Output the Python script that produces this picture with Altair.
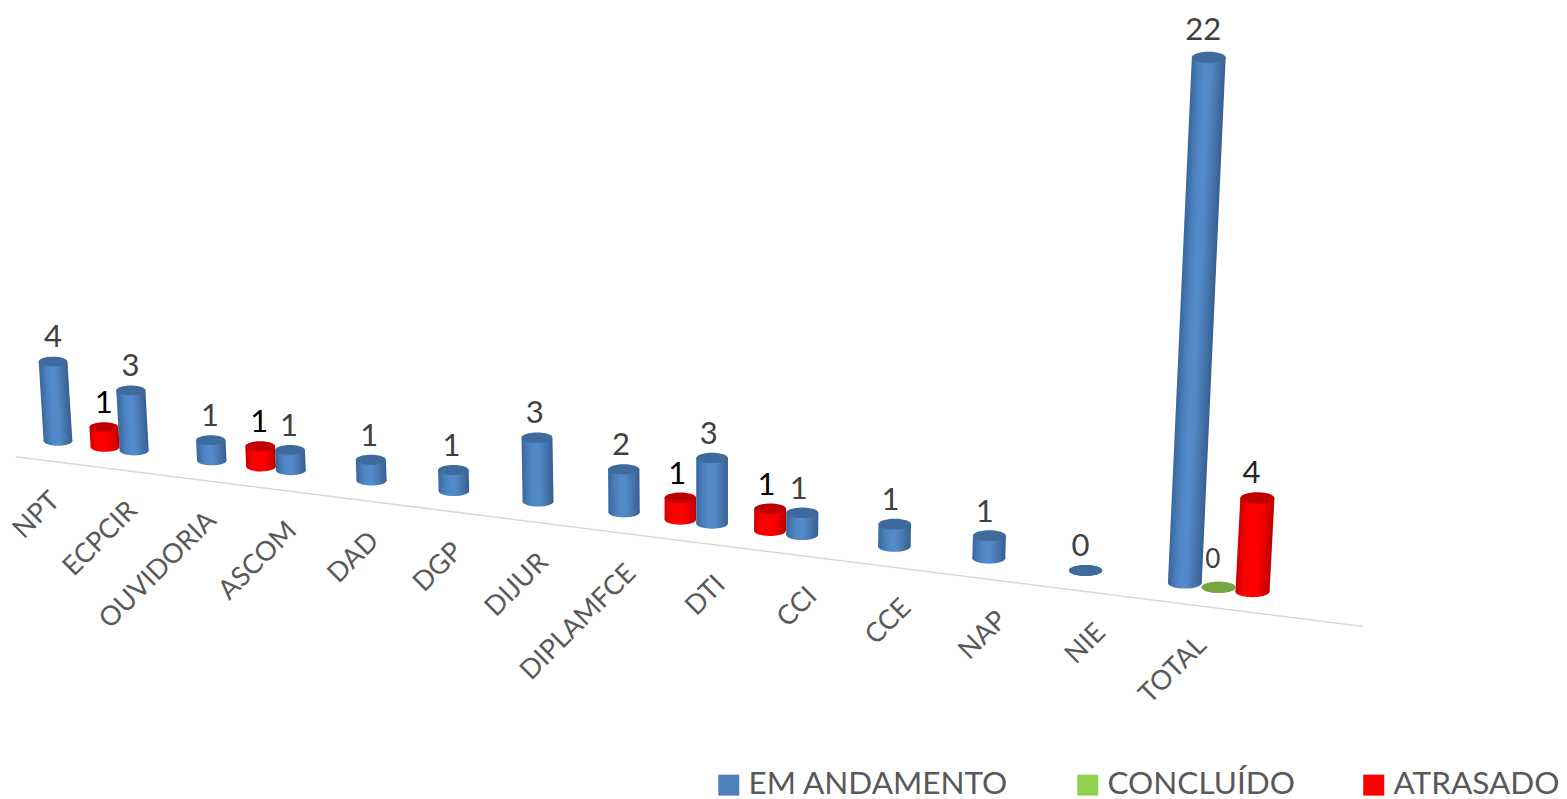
import altair as alt
import pandas as pd

CATEGORIES = ["NPT", "ECPCIR", "OUVIDORIA", "ASCOM", "DAD", "DGP", "DIJUR", "DIPLAMFCE",
              "DTI", "CCI", "CCE", "NAP", "NIE", "TOTAL"]
EM_ANDAMENTO = [4, 3, 1, 1, 1, 1, 3, 2, 3, 1, 1, 1, 0, 22]
CONCLUIDO = [None] * 13 + [0]
ATRASADO = [None, 1, None, 1, None, None, None, None, 1, 1, None, None, None, 4]
SERIES = ["EM ANDAMENTO", "CONCLUÍDO", "ATRASADO"]
LEGEND_COLORS = ["#4f81bd", "#92d050", "#ff0000"]

W, H = 1551, 789
ELLIPSE = "M-1,0 A1,0.33 0 1,1 1,0 A1,0.33 0 1,1 -1,0 Z"
FONT = "Lato"


# Perspective projection of the 3D chart (page pixels, 8px margin removed at the end)
def cat_x(i):
    return 58 + 75.5 * i + 0.6585 * i ** 2 + 0.0155 * i ** 3


def col_w(x):
    return 28.5 + 0.0045 * x


def base_y(x):
    return 433.7 + 0.126 * x


def col_h(x, v):
    return v * (19.6 + 0.0029 * x) * (1 + 0.0017 * v)


def lean(x):
    return (x - 710) * 9.58e-5


rows = []
for i, c in enumerate(CATEGORIES):
    cx = cat_x(i)
    for s, vals in zip(SERIES, [EM_ANDAMENTO, CONCLUIDO, ATRASADO]):
        v = vals[i]
        if v is None:
            continue
        # blue is the anchor; red stands left of it, except in TOTAL where it is third
        slot = {"EM ANDAMENTO": 0, "CONCLUÍDO": 1,
                "ATRASADO": 2 if c == "TOTAL" else -1}[s]
        x = cx + slot * col_w(cx)
        h = col_h(x, v)
        gap = 19 if s == "CONCLUÍDO" else 14 + 0.007 * h
        rows.append({
            "category": c, "series": s, "value": v,
            "x": x - 8, "y": base_y(x) - 8,
            "xt": x + h * lean(x) - 8, "yt": base_y(x) - h - 8,
            "w": col_w(x), "sz": col_w(x) ** 2,
            "lx": x + h * lean(x) - 8 + 0.3 - 0.005 * x,
            "ly": base_y(x) - h - 8 - gap,
        })
df = pd.DataFrame(rows)

cat_rows = []
for i, c in enumerate(CATEGORIES):
    cx = cat_x(i)
    lx = cx + (-3.5 + 0.0175 * cx)
    cat_rows.append({"category": c, "x": lx - 8, "y": base_y(lx) + 21 + 35 - 8})
df_cat = pd.DataFrame(cat_rows)

df_axis = pd.DataFrame([{"x": 16 - 8, "x2": 1363 - 8,
                         "y": base_y(16) + 21 - 8, "y2": base_y(1363) + 21 - 8}])

XS = alt.Scale(domain=[0, W], nice=False, zero=False)
YS = alt.Scale(domain=[H, 0], nice=False, zero=False)


def X(f):
    return alt.X(f, type="quantitative", scale=XS, axis=None)


def Y(f):
    return alt.Y(f, type="quantitative", scale=YS, axis=None)


SHADES = {
    "EM ANDAMENTO": ["#3a659b", "#4273ad", "#4a7fbd", "#5087c6", "#538bcb",
                     "#5289c8", "#4c80bb", "#4575ab", "#3e6b9e", "#365e8e"],
    "CONCLUÍDO": ["#76a640", "#76a640"],
    "ATRASADO": ["#c80000", "#e60000", "#fa0000", "#ff0000", "#ff0000",
                 "#ff0000", "#f60000", "#e40000", "#d00000", "#bb0000"],
}
TOP = {"EM ANDAMENTO": "#3e6a9c", "CONCLUÍDO": "#76a640", "ATRASADO": "#c00000"}


def stops_for(shades):
    n = len(shades)
    return [alt.GradientStop(color=col, offset=k / (n - 1)) for k, col in enumerate(shades)]


def body_gradient(r, shades):
    # gradient vector in bounding-box units whose iso-lines follow the column's lean
    dx = r.xt - r.x
    box = r.w + abs(dx)
    n = dx / box
    length = (r.w / box) / (1 + n * n)
    ax = 0 if dx >= 0 else abs(dx) / box
    return alt.LinearGradient(gradient="linear", stops=stops_for(shades),
                              x1=ax, y1=1, x2=ax + length, y2=1 + n * length)


layers = [
    alt.Chart(df_axis).mark_rule(color="#d9d9d9", strokeWidth=1.6).encode(
        x=X("x"), x2="x2", y=Y("y"), y2="y2")
]

for s in ["ATRASADO", "EM ANDAMENTO", "CONCLUÍDO"]:
    d = df[df.series == s]
    shades = SHADES[s]
    grad = alt.LinearGradient(gradient="linear", stops=stops_for(shades), x1=0, x2=1, y1=0, y2=0)
    layers.append(
        alt.Chart(d).mark_point(shape=ELLIPSE, filled=True, fill=grad, opacity=1, strokeWidth=0).encode(
            x=X("x"), y=Y("y"), size=alt.Size("sz:Q", scale=None, legend=None))
    )
    for r in d.itertuples():
        if r.value == 0:
            continue
        body = pd.DataFrame([
            {"yy": r.y, "xa": r.x - r.w / 2, "xb": r.x + r.w / 2},
            {"yy": r.yt, "xa": r.xt - r.w / 2, "xb": r.xt + r.w / 2},
        ])
        layers.append(
            alt.Chart(body).mark_area(orient="horizontal", fill=body_gradient(r, shades), opacity=1).encode(
                x=X("xa"), x2="xb:Q", y=Y("yy"))
        )
    layers.append(
        alt.Chart(d).mark_point(shape=ELLIPSE, filled=True, fill=TOP[s], opacity=1, strokeWidth=0).encode(
            x=X("xt"), y=Y("yt"), size=alt.Size("sz:Q", scale=None, legend=None))
    )

# Value labels
for s, col, fs in [("EM ANDAMENTO", "#404040", 31), ("CONCLUÍDO", "#404040", 26), ("ATRASADO", "#000000", 31)]:
    d = df[df.series == s]
    if s == "ATRASADO":
        layers.append(alt.Chart(d[d.category == "TOTAL"]).mark_text(
            font=FONT, fontSize=fs, color="#262626", baseline="alphabetic", align="center").encode(
            x=X("lx"), y=Y("ly"), text="value:Q"))
        d = d[d.category != "TOTAL"]
    layers.append(alt.Chart(d).mark_text(
        font=FONT, fontSize=fs, color=col, baseline="alphabetic", align="center").encode(
        x=X("lx"), y=Y("ly"), text="value:Q"))

# Category labels along the sloped axis
layers.append(
    alt.Chart(df_cat).mark_text(font=FONT, fontSize=27, color="#595959", angle=315,
                                align="right", baseline="middle").encode(
        x=X("x"), y=Y("y"), text="category:N")
)

# Legend
layers.append(
    alt.Chart(df).mark_point(filled=True, opacity=1, shape="square", strokeWidth=0).encode(
        x=X("x"), y=Y("y"), size=alt.value(0),
        color=alt.Color("series:N", scale=alt.Scale(domain=SERIES, range=LEGEND_COLORS),
                        legend=alt.Legend(orient="none", legendX=705, legendY=761, direction="horizontal",
                                          columns=3, title=None, symbolType="square", symbolSize=441,
                                          symbolStrokeWidth=0, labelFont=FONT, labelFontSize=31.5,
                                          labelColor="#595959", labelOffset=4, columnPadding=63,
                                          labelLimit=400, gridAlign="each", symbolOpacity=1)))
)

chart = alt.layer(*layers).properties(
    width=W, height=H, padding=0, background="white",
    autosize=alt.AutoSizeParams(type="none"),
).configure_view(stroke=None)

chart.save("out.html", embed_options={"renderer": "svg", "actions": False})
